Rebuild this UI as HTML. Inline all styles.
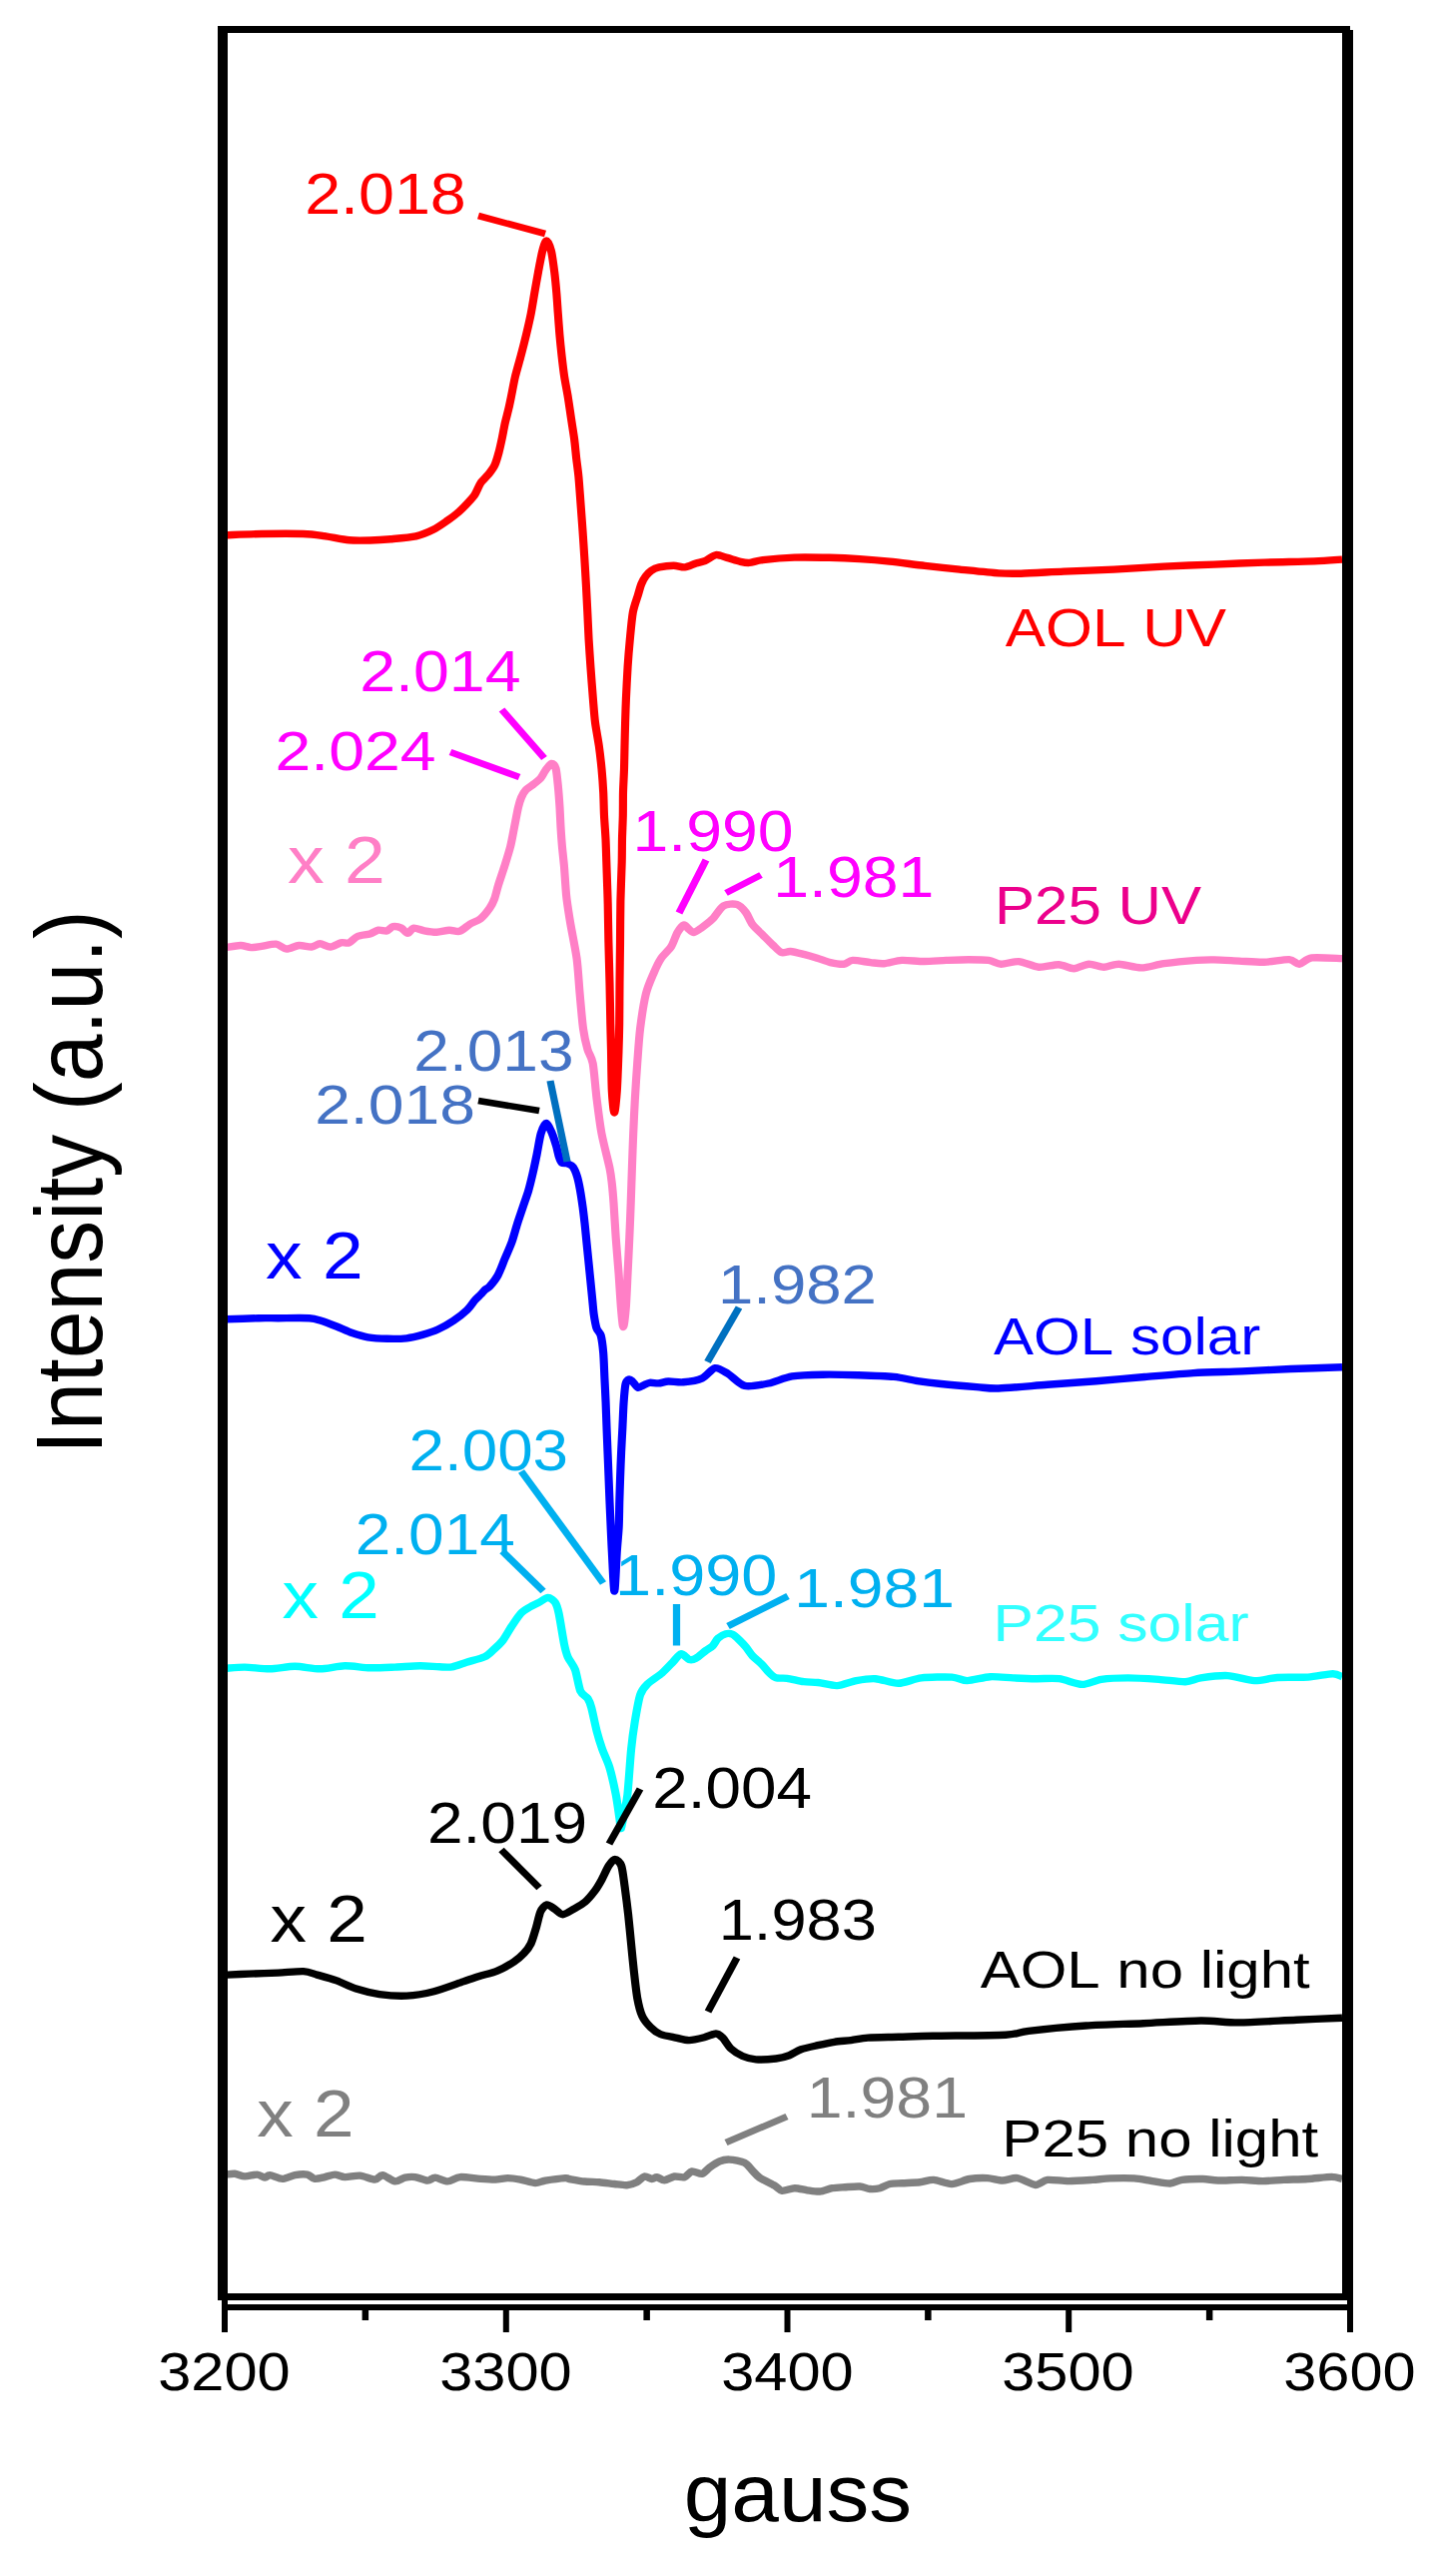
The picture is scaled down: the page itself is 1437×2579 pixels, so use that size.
<!DOCTYPE html><html><head><meta charset="utf-8"><style>html,body{margin:0;padding:0;background:#fff;}svg{display:block;}text{font-family:"Liberation Sans",sans-serif;font-kerning:none;}</style></head><body>
<svg width="1437" height="2579" viewBox="0 0 1437 2579">
<rect width="1437" height="2579" fill="#fff"/>
<text x="305.15" y="214.03" font-size="58.05" fill="#FF0000" textLength="161.66" lengthAdjust="spacingAndGlyphs">2.018</text>
<text x="1006.78" y="646.57" font-size="54.10" fill="#FF0000" textLength="221.28" lengthAdjust="spacingAndGlyphs">AOL UV</text>
<text x="360.26" y="691.74" font-size="56.92" fill="#FF00FF" textLength="161.33" lengthAdjust="spacingAndGlyphs">2.014</text>
<text x="275.57" y="770.55" font-size="56.07" fill="#FF00FF" textLength="160.92" lengthAdjust="spacingAndGlyphs">2.024</text>
<text x="287.98" y="883.80" font-size="66.88" fill="#FF7FC6" textLength="97.92" lengthAdjust="spacingAndGlyphs">x 2</text>
<text x="633.50" y="852.04" font-size="57.63" fill="#FF00FF" textLength="161.01" lengthAdjust="spacingAndGlyphs">1.990</text>
<text x="774.29" y="897.54" font-size="56.92" fill="#FF00FF" textLength="161.15" lengthAdjust="spacingAndGlyphs">1.981</text>
<text x="995.97" y="925.47" font-size="54.24" fill="#EC008C" textLength="207.09" lengthAdjust="spacingAndGlyphs">P25 UV</text>
<text x="414.28" y="1071.74" font-size="56.92" fill="#4472C4" textLength="160.34" lengthAdjust="spacingAndGlyphs">2.013</text>
<text x="315.17" y="1125.45" font-size="56.07" fill="#4472C4" textLength="160.72" lengthAdjust="spacingAndGlyphs">2.018</text>
<text x="266.08" y="1279.90" font-size="67.03" fill="#0000FF" textLength="97.71" lengthAdjust="spacingAndGlyphs">x 2</text>
<text x="718.96" y="1305.05" font-size="56.07" fill="#4472C4" textLength="158.93" lengthAdjust="spacingAndGlyphs">1.982</text>
<text x="994.98" y="1356.39" font-size="51.88" fill="#0000FF" textLength="267.22" lengthAdjust="spacingAndGlyphs">AOL solar</text>
<text x="409.49" y="1471.84" font-size="57.49" fill="#00B0F0" textLength="159.61" lengthAdjust="spacingAndGlyphs">2.003</text>
<text x="355.78" y="1555.54" font-size="57.20" fill="#00B0F0" textLength="159.99" lengthAdjust="spacingAndGlyphs">2.014</text>
<text x="282.58" y="1620.00" font-size="65.74" fill="#00FFFF" textLength="97.18" lengthAdjust="spacingAndGlyphs">x 2</text>
<text x="616.06" y="1596.75" font-size="56.78" fill="#00B0F0" textLength="162.38" lengthAdjust="spacingAndGlyphs">1.990</text>
<text x="795.31" y="1608.95" font-size="56.07" fill="#00B0F0" textLength="160.52" lengthAdjust="spacingAndGlyphs">1.981</text>
<text x="994.53" y="1643.20" font-size="51.34" fill="#33FFFF" textLength="256.18" lengthAdjust="spacingAndGlyphs">P25 solar</text>
<text x="653.29" y="1810.03" font-size="57.91" fill="#000000" textLength="159.58" lengthAdjust="spacingAndGlyphs">2.004</text>
<text x="427.98" y="1845.33" font-size="57.91" fill="#000000" textLength="160.15" lengthAdjust="spacingAndGlyphs">2.019</text>
<text x="270.58" y="1944.00" font-size="66.45" fill="#000000" textLength="97.39" lengthAdjust="spacingAndGlyphs">x 2</text>
<text x="719.68" y="1942.15" font-size="56.64" fill="#000000" textLength="158.19" lengthAdjust="spacingAndGlyphs">1.983</text>
<text x="981.78" y="1989.80" font-size="52.30" fill="#000000" textLength="329.86" lengthAdjust="spacingAndGlyphs">AOL no light</text>
<text x="257.38" y="2138.70" font-size="66.45" fill="#808080" textLength="97.29" lengthAdjust="spacingAndGlyphs">x 2</text>
<text x="807.69" y="2120.03" font-size="57.91" fill="#808080" textLength="161.36" lengthAdjust="spacingAndGlyphs">1.981</text>
<text x="1003.38" y="2159.00" font-size="51.06" fill="#000000" textLength="316.86" lengthAdjust="spacingAndGlyphs">P25 no light</text>
<text x="158.23" y="2392.77" font-size="53.95" fill="#000000" textLength="132.49" lengthAdjust="spacingAndGlyphs">3200</text>
<text x="440.23" y="2392.77" font-size="53.95" fill="#000000" textLength="132.49" lengthAdjust="spacingAndGlyphs">3300</text>
<text x="722.23" y="2392.77" font-size="53.95" fill="#000000" textLength="132.49" lengthAdjust="spacingAndGlyphs">3400</text>
<text x="1003.23" y="2392.77" font-size="53.95" fill="#000000" textLength="132.49" lengthAdjust="spacingAndGlyphs">3500</text>
<text x="1285.23" y="2392.77" font-size="53.95" fill="#000000" textLength="132.49" lengthAdjust="spacingAndGlyphs">3600</text>
<text x="684.70" y="2524.30" font-size="82.33" fill="#000000" textLength="228.49" lengthAdjust="spacingAndGlyphs">gauss</text>
<text transform="translate(102.4 1455.93) rotate(-90)" x="0" y="0" font-size="93.75" fill="#000" textLength="544.66" lengthAdjust="spacingAndGlyphs">Intensity (a.u.)</text>
<g transform="scale(1.100 1)" fill="none" stroke-linejoin="round" stroke-linecap="butt">
<path d="M205.73 2177.10 C206.79 2176.99 211.45 2176.06 213.73 2176.30 C216.01 2176.54 220.09 2178.79 222.82 2178.90 C225.55 2179.01 231.75 2176.94 234.18 2177.10 C236.62 2177.26 239.56 2180.03 241.09 2180.10 C242.62 2180.17 243.52 2177.43 245.64 2177.60 C247.76 2177.77 253.96 2181.40 257.00 2181.40 C260.04 2181.40 265.41 2178.17 268.45 2177.60 C271.50 2177.03 277.39 2176.59 279.82 2177.10 C282.24 2177.61 284.50 2181.07 286.64 2181.40 C288.77 2181.73 293.38 2180.17 295.82 2179.60 C298.25 2179.03 302.48 2177.10 304.91 2177.10 C307.33 2177.10 310.96 2179.47 314.00 2179.60 C317.04 2179.73 324.08 2177.77 327.73 2178.10 C331.38 2178.43 338.62 2182.17 341.36 2182.10 C344.10 2182.03 345.84 2177.36 348.27 2177.60 C350.71 2177.84 356.91 2183.57 359.64 2183.90 C362.36 2184.23 366.29 2180.67 368.73 2180.10 C371.16 2179.53 375.17 2179.20 377.91 2179.60 C380.65 2180.00 386.84 2183.03 389.27 2183.10 C391.71 2183.17 393.75 2179.99 396.18 2180.10 C398.62 2180.21 404.52 2183.97 407.55 2183.90 C410.58 2183.83 414.96 2179.93 418.91 2179.60 C422.86 2179.27 432.92 2181.07 437.18 2181.40 C441.45 2181.73 447.56 2182.21 450.91 2182.10 C454.25 2181.99 459.23 2180.60 462.27 2180.60 C465.32 2180.60 470.38 2181.43 473.73 2182.10 C477.07 2182.77 484.33 2185.47 487.36 2185.60 C490.39 2185.73 492.81 2183.77 496.45 2183.10 C500.10 2182.43 511.83 2180.81 514.73 2180.60 C517.62 2180.39 515.89 2181.05 518.18 2181.50 C520.47 2181.95 528.26 2183.57 531.91 2184.00 C535.56 2184.43 541.90 2184.37 545.55 2184.70 C549.19 2185.03 555.93 2186.10 559.27 2186.50 C562.62 2186.90 567.91 2187.94 570.64 2187.70 C573.36 2187.46 577.59 2185.86 579.73 2184.70 C581.86 2183.54 584.81 2179.43 586.64 2179.00 C588.47 2178.57 591.94 2181.41 593.45 2181.50 C594.97 2181.59 596.48 2179.54 598.00 2179.70 C599.52 2179.86 602.68 2182.79 604.82 2182.70 C606.95 2182.61 611.56 2179.40 614.00 2179.00 C616.44 2178.60 620.97 2180.38 623.09 2179.70 C625.21 2179.02 627.78 2174.34 629.91 2173.90 C632.04 2173.46 636.96 2176.89 639.09 2176.40 C641.22 2175.91 643.79 2171.87 645.91 2170.20 C648.03 2168.53 652.56 2164.98 655.00 2163.90 C657.44 2162.82 661.14 2161.93 664.18 2162.10 C667.22 2162.27 675.09 2163.79 677.82 2165.20 C680.55 2166.61 682.81 2170.70 684.64 2172.70 C686.47 2174.70 688.81 2178.13 691.55 2180.20 C694.28 2182.27 702.45 2186.45 705.18 2188.20 C707.91 2189.95 709.56 2192.97 712.00 2193.30 C714.44 2193.63 720.41 2190.77 723.45 2190.70 C726.50 2190.63 731.78 2192.36 734.82 2192.80 C737.86 2193.24 743.23 2194.28 746.27 2194.00 C749.32 2193.72 754.59 2191.27 757.64 2190.70 C760.68 2190.13 765.75 2189.93 769.09 2189.70 C772.44 2189.47 779.68 2188.76 782.73 2189.00 C785.77 2189.24 789.47 2191.27 791.91 2191.50 C794.35 2191.73 798.58 2191.37 801.00 2190.70 C803.42 2190.03 807.35 2187.17 810.09 2186.50 C812.83 2185.83 817.90 2185.94 821.55 2185.70 C825.19 2185.46 833.66 2185.14 837.45 2184.70 C841.25 2184.26 846.15 2182.15 850.00 2182.40 C853.85 2182.65 862.01 2186.72 866.36 2186.60 C870.72 2186.48 878.28 2182.30 882.64 2181.50 C886.99 2180.70 895.00 2180.40 899.00 2180.60 C903.00 2180.80 909.00 2183.00 912.64 2183.00 C916.27 2183.00 922.27 2180.00 926.27 2180.60 C930.27 2181.20 939.00 2187.26 942.64 2187.50 C946.27 2187.74 949.56 2182.92 953.55 2182.40 C957.53 2181.88 967.10 2183.60 972.55 2183.60 C977.99 2183.60 989.27 2182.76 994.36 2182.40 C999.45 2182.04 1005.64 2181.10 1010.73 2180.90 C1015.82 2180.70 1027.47 2180.54 1032.55 2180.90 C1037.62 2181.26 1044.47 2182.92 1048.82 2183.60 C1053.17 2184.28 1061.55 2186.16 1065.18 2186.00 C1068.82 2185.84 1072.09 2183.00 1076.09 2182.40 C1080.09 2181.80 1090.82 2181.42 1095.18 2181.50 C1099.55 2181.58 1104.10 2182.88 1108.82 2183.00 C1113.53 2183.12 1125.10 2182.32 1130.55 2182.40 C1135.99 2182.48 1144.55 2183.60 1149.64 2183.60 C1154.73 2183.60 1163.27 2182.68 1168.73 2182.40 C1174.18 2182.12 1184.74 2181.90 1190.55 2181.50 C1196.35 2181.10 1208.10 2179.40 1212.27 2179.40 C1216.44 2179.40 1220.55 2181.22 1221.82 2181.50" stroke="#808080" stroke-width="7.40"/>
<path d="M207.09 1977.10 C209.70 1976.97 220.49 1976.37 226.64 1976.10 C232.78 1975.83 246.56 1975.43 253.18 1975.10 C259.80 1974.77 271.53 1973.33 276.27 1973.60 C281.01 1973.87 284.70 1975.86 288.73 1977.10 C292.75 1978.34 301.73 1981.03 306.45 1982.90 C311.18 1984.77 318.98 1989.27 324.18 1991.10 C329.38 1992.93 339.31 1995.67 345.45 1996.60 C351.60 1997.53 363.65 1998.49 370.27 1998.10 C376.89 1997.71 388.23 1995.59 395.09 1993.70 C401.95 1991.81 416.22 1985.93 421.73 1983.90 C427.23 1981.87 432.22 1979.94 436.36 1978.50 C440.51 1977.06 448.60 1975.03 452.82 1973.10 C457.04 1971.17 464.79 1966.32 468.00 1964.00 C471.21 1961.68 474.87 1958.10 476.91 1955.70 C478.95 1953.30 481.76 1949.53 483.27 1946.00 C484.79 1942.47 487.10 1933.48 488.27 1929.20 C489.45 1924.92 490.82 1916.87 492.09 1913.90 C493.36 1910.93 496.12 1907.27 497.82 1906.90 C499.52 1906.53 502.88 1909.79 504.82 1911.10 C506.76 1912.41 510.00 1916.70 512.36 1916.70 C514.73 1916.70 519.84 1912.78 522.55 1911.10 C525.25 1909.42 530.10 1906.51 532.64 1904.10 C535.17 1901.69 539.52 1895.97 541.55 1893.00 C543.57 1890.03 546.13 1885.15 547.82 1881.80 C549.50 1878.45 552.57 1870.61 554.18 1867.90 C555.79 1865.19 558.38 1861.50 559.91 1861.50 C561.44 1861.50 564.46 1864.26 565.64 1867.90 C566.81 1871.54 567.89 1882.29 568.73 1888.80 C569.56 1895.31 571.15 1909.27 571.91 1916.70 C572.67 1924.13 573.78 1937.07 574.45 1944.50 C575.13 1951.93 576.24 1964.96 577.00 1972.40 C577.76 1979.84 579.16 1994.17 580.18 2000.30 C581.20 2006.43 583.04 2014.51 584.64 2018.40 C586.24 2022.29 589.99 2027.09 592.18 2029.50 C594.38 2031.91 598.02 2035.09 601.09 2036.50 C604.16 2037.91 611.68 2039.29 615.18 2040.10 C618.68 2040.91 623.91 2042.64 627.36 2042.60 C630.82 2042.56 637.84 2040.68 641.09 2039.80 C644.34 2038.92 649.50 2035.96 651.73 2036.00 C653.96 2036.04 656.00 2038.10 657.82 2040.10 C659.64 2042.10 662.94 2048.55 665.36 2051.00 C667.79 2053.45 672.96 2057.05 676.00 2058.50 C679.04 2059.95 684.12 2061.57 688.18 2061.90 C692.24 2062.23 702.39 2061.56 706.45 2061.00 C710.52 2060.44 715.59 2058.93 718.64 2057.70 C721.68 2056.47 725.83 2053.13 729.27 2051.80 C732.72 2050.47 740.41 2048.70 744.45 2047.70 C748.50 2046.70 755.59 2044.98 759.64 2044.30 C763.68 2043.62 770.76 2043.16 774.82 2042.60 C778.88 2042.04 784.31 2040.54 790.09 2040.10 C795.87 2039.66 810.29 2039.54 818.18 2039.30 C826.07 2039.06 836.30 2038.58 849.27 2038.30 C862.24 2038.02 903.84 2037.87 915.45 2037.20 C927.07 2036.53 926.61 2034.53 936.36 2033.30 C946.12 2032.07 974.70 2029.01 988.64 2028.00 C1002.58 2026.99 1026.97 2026.37 1040.91 2025.70 C1054.85 2025.03 1081.57 2023.11 1093.18 2023.00 C1104.79 2022.89 1116.39 2025.01 1128.00 2024.90 C1139.61 2024.79 1167.76 2022.81 1180.27 2022.20 C1192.78 2021.59 1216.28 2020.55 1221.82 2020.30" stroke="#000000" stroke-width="7.40"/>
<path d="M205.73 1670.30 C208.01 1670.14 217.50 1669.03 222.82 1669.10 C228.14 1669.17 239.55 1670.91 245.64 1670.80 C251.72 1670.69 262.37 1668.30 268.45 1668.30 C274.54 1668.30 285.20 1670.87 291.27 1670.80 C297.35 1670.73 307.93 1667.93 314.00 1667.80 C320.07 1667.67 330.73 1669.63 336.82 1669.80 C342.90 1669.97 353.55 1669.37 359.64 1669.10 C365.72 1668.83 377.07 1667.84 382.45 1667.80 C387.84 1667.76 396.12 1668.67 400.00 1668.80 C403.88 1668.93 408.25 1669.41 411.55 1668.80 C414.84 1668.19 420.78 1665.53 424.73 1664.20 C428.68 1662.87 437.88 1660.49 441.18 1658.80 C444.48 1657.11 447.26 1653.67 449.45 1651.50 C451.65 1649.33 455.44 1645.63 457.64 1642.50 C459.83 1639.37 463.72 1631.63 465.91 1628.00 C468.10 1624.37 471.90 1617.83 474.09 1615.30 C476.28 1612.77 480.16 1610.45 482.36 1609.00 C484.57 1607.55 488.44 1605.67 490.64 1604.40 C492.83 1603.13 496.84 1599.50 498.82 1599.50 C500.79 1599.50 504.13 1602.29 505.45 1604.40 C506.78 1606.51 507.64 1609.74 508.73 1615.30 C509.82 1620.86 512.55 1640.30 513.64 1646.10 C514.73 1651.90 515.59 1655.41 516.91 1658.80 C518.23 1662.19 522.01 1666.91 523.55 1671.50 C525.08 1676.09 526.92 1689.33 528.45 1693.20 C529.99 1697.07 533.77 1698.33 535.09 1700.50 C536.41 1702.67 537.27 1705.15 538.36 1709.50 C539.45 1713.85 541.95 1727.54 543.27 1733.10 C544.59 1738.66 546.73 1746.37 548.27 1751.20 C549.81 1756.03 553.17 1763.26 554.82 1769.30 C556.47 1775.34 559.42 1789.74 560.64 1796.50 C561.85 1803.26 563.27 1815.47 563.91 1820.00 C564.55 1824.53 564.88 1831.17 565.45 1830.50 C566.02 1829.83 567.41 1819.53 568.18 1815.00 C568.96 1810.47 570.41 1805.01 571.27 1796.50 C572.13 1787.99 573.75 1760.87 574.64 1751.20 C575.52 1741.53 576.82 1731.25 577.91 1724.00 C579.00 1716.75 581.28 1701.87 582.82 1696.80 C584.36 1691.73 586.81 1688.89 589.45 1686.00 C592.10 1683.11 599.57 1678.01 602.64 1675.10 C605.70 1672.19 610.15 1666.77 612.45 1664.20 C614.76 1661.63 617.92 1656.17 619.91 1655.80 C621.90 1655.43 625.56 1660.80 627.36 1661.40 C629.17 1662.00 631.43 1661.49 633.45 1660.30 C635.48 1659.11 640.52 1654.14 642.55 1652.50 C644.57 1650.86 647.15 1649.64 648.64 1648.00 C650.13 1646.36 652.10 1641.84 653.73 1640.20 C655.35 1638.56 659.06 1636.22 660.82 1635.70 C662.58 1635.18 665.28 1635.47 666.91 1636.30 C668.53 1637.13 671.38 1640.19 673.00 1641.90 C674.62 1643.61 677.47 1646.95 679.09 1649.10 C680.72 1651.25 683.29 1655.76 685.18 1658.00 C687.07 1660.24 691.25 1663.66 693.27 1665.90 C695.30 1668.14 698.61 1672.95 700.36 1674.80 C702.12 1676.65 704.30 1679.07 706.45 1679.80 C708.61 1680.53 713.18 1679.78 716.55 1680.30 C719.92 1680.82 727.97 1683.14 731.73 1683.70 C735.48 1684.26 740.68 1683.98 744.73 1684.50 C748.78 1685.02 757.45 1687.85 762.09 1687.60 C766.73 1687.35 774.89 1683.52 779.55 1682.60 C784.20 1681.68 791.88 1680.34 797.00 1680.70 C802.12 1681.06 812.35 1685.41 817.91 1685.30 C823.47 1685.19 832.23 1680.73 838.73 1679.90 C845.22 1679.07 861.06 1678.74 866.64 1679.10 C872.21 1679.46 875.90 1682.65 880.55 1682.60 C885.19 1682.55 895.88 1679.06 901.45 1678.70 C907.03 1678.34 916.79 1679.63 922.36 1679.90 C927.94 1680.17 937.70 1680.59 943.27 1680.70 C948.85 1680.81 958.61 1679.94 964.18 1680.70 C969.76 1681.46 979.98 1686.31 985.09 1686.40 C990.21 1686.49 996.97 1682.27 1002.55 1681.40 C1008.12 1680.53 1019.94 1679.90 1026.91 1679.90 C1033.88 1679.90 1047.85 1680.89 1054.82 1681.40 C1061.79 1681.91 1074.07 1683.90 1079.18 1683.70 C1084.30 1683.50 1088.07 1680.71 1093.18 1679.90 C1098.30 1679.09 1111.05 1677.24 1117.55 1677.60 C1124.04 1677.96 1135.87 1682.35 1141.91 1682.60 C1147.95 1682.85 1156.31 1679.97 1162.82 1679.50 C1169.33 1679.03 1183.99 1679.61 1190.73 1679.10 C1197.47 1678.59 1209.22 1675.75 1213.36 1675.70 C1217.51 1675.65 1220.69 1678.30 1221.82 1678.70" stroke="#00FFFF" stroke-width="7.40"/>
<path d="M205.73 1320.80 C209.69 1320.65 229.13 1319.85 235.45 1319.70 C241.78 1319.55 247.02 1319.70 253.18 1319.70 C259.34 1319.70 276.42 1319.37 281.64 1319.70 C286.85 1320.03 288.96 1321.09 292.27 1322.20 C295.58 1323.31 302.67 1326.36 306.45 1328.00 C310.24 1329.64 316.85 1333.06 320.64 1334.50 C324.42 1335.94 330.56 1338.03 334.82 1338.80 C339.07 1339.57 347.82 1340.17 352.55 1340.30 C357.27 1340.43 366.02 1340.32 370.27 1339.80 C374.53 1339.28 380.67 1337.57 384.45 1336.40 C388.24 1335.23 394.85 1332.89 398.64 1331.00 C402.42 1329.11 409.27 1324.80 412.82 1322.20 C416.37 1319.60 422.67 1314.23 425.27 1311.50 C427.88 1308.77 430.70 1303.78 432.36 1301.70 C434.02 1299.62 436.47 1297.33 437.73 1295.90 C438.99 1294.47 440.76 1292.03 441.82 1291.00 C442.87 1289.97 444.12 1290.07 445.64 1288.20 C447.15 1286.33 451.33 1280.72 453.18 1277.00 C455.04 1273.28 457.85 1264.75 459.55 1260.30 C461.24 1255.85 464.39 1248.25 465.91 1243.60 C467.42 1238.95 469.56 1230.05 470.91 1225.40 C472.25 1220.75 474.64 1213.15 476.00 1208.70 C477.36 1204.25 479.90 1196.45 481.09 1192.00 C482.28 1187.55 483.89 1180.14 484.91 1175.30 C485.93 1170.46 487.72 1161.10 488.73 1155.70 C489.73 1150.30 491.32 1138.96 492.45 1134.80 C493.59 1130.64 495.92 1124.50 497.27 1124.50 C498.63 1124.50 501.41 1131.75 502.64 1134.80 C503.86 1137.85 505.61 1144.24 506.45 1147.40 C507.30 1150.56 508.33 1156.27 509.00 1158.50 C509.67 1160.73 510.45 1163.26 511.45 1164.10 C512.46 1164.94 515.19 1164.24 516.55 1164.80 C517.90 1165.36 520.45 1166.54 521.64 1168.30 C522.82 1170.06 524.61 1175.03 525.45 1178.00 C526.30 1180.97 527.32 1186.51 528.00 1190.60 C528.68 1194.69 529.96 1204.06 530.55 1208.70 C531.13 1213.34 531.95 1221.31 532.36 1225.40 C532.78 1229.49 533.30 1235.68 533.64 1239.40 C533.98 1243.12 534.57 1249.59 534.91 1253.30 C535.25 1257.01 535.84 1263.48 536.18 1267.20 C536.52 1270.92 537.03 1276.55 537.45 1281.20 C537.88 1285.85 538.94 1297.46 539.36 1302.10 C539.79 1306.74 540.13 1312.28 540.64 1316.00 C541.15 1319.72 542.33 1327.20 543.18 1330.00 C544.03 1332.80 546.19 1333.73 547.00 1337.00 C547.81 1340.27 548.82 1348.86 549.27 1354.50 C549.72 1360.14 550.07 1372.69 550.36 1379.30 C550.65 1385.91 551.20 1397.47 551.45 1404.10 C551.71 1410.73 552.04 1422.37 552.27 1429.00 C552.50 1435.63 552.94 1447.19 553.18 1453.80 C553.42 1460.41 553.85 1471.97 554.09 1478.60 C554.33 1485.23 554.75 1496.87 555.00 1503.50 C555.25 1510.13 555.72 1521.69 556.00 1528.30 C556.28 1534.91 556.64 1544.47 557.09 1553.10 C557.54 1561.73 558.76 1593.00 559.36 1593.00 C559.97 1593.00 561.10 1561.73 561.64 1553.10 C562.17 1544.47 563.06 1534.91 563.36 1528.30 C563.67 1521.69 563.74 1510.13 563.91 1503.50 C564.08 1496.87 564.42 1485.23 564.64 1478.60 C564.85 1471.97 565.27 1460.41 565.55 1453.80 C565.82 1447.19 566.42 1435.63 566.73 1429.00 C567.03 1422.37 567.44 1409.90 567.82 1404.10 C568.19 1398.30 568.89 1388.58 569.55 1385.50 C570.20 1382.42 571.90 1381.33 572.73 1381.00 C573.55 1380.67 574.65 1381.91 575.73 1383.00 C576.81 1384.09 579.46 1388.69 580.82 1389.20 C582.18 1389.71 584.48 1387.45 585.91 1386.80 C587.34 1386.15 589.74 1384.55 591.55 1384.30 C593.35 1384.05 597.20 1385.07 599.45 1384.90 C601.71 1384.73 605.45 1383.15 608.45 1383.00 C611.46 1382.85 617.89 1384.23 622.00 1383.80 C626.11 1383.37 635.39 1381.69 639.27 1379.80 C643.15 1377.91 647.94 1370.17 651.09 1369.60 C654.24 1369.03 659.32 1373.13 662.91 1375.50 C666.50 1377.87 673.12 1386.13 678.00 1387.40 C682.88 1388.67 693.80 1386.27 699.55 1385.00 C705.29 1383.73 714.48 1379.07 721.09 1377.90 C727.70 1376.73 741.05 1376.36 749.09 1376.20 C757.13 1376.04 772.75 1376.41 781.36 1376.70 C789.98 1376.99 806.54 1377.61 813.73 1378.40 C820.92 1379.19 829.54 1381.65 835.27 1382.60 C841.01 1383.55 849.55 1384.70 856.73 1385.50 C863.90 1386.30 882.11 1388.00 889.09 1388.60 C896.07 1389.20 900.51 1390.31 909.09 1390.00 C917.67 1389.69 941.62 1387.27 953.45 1386.30 C965.28 1385.33 986.00 1383.74 997.82 1382.70 C1009.64 1381.66 1030.27 1379.58 1042.09 1378.50 C1053.91 1377.42 1074.62 1375.35 1086.45 1374.60 C1098.28 1373.85 1118.99 1373.45 1130.82 1372.90 C1142.65 1372.35 1163.05 1371.05 1175.18 1370.50 C1187.32 1369.95 1215.60 1369.03 1221.82 1368.80" stroke="#0000FF" stroke-width="7.40"/>
<path d="M205.73 948.60 C207.50 948.32 215.96 946.50 219.00 946.50 C222.04 946.50 226.01 948.49 228.55 948.60 C231.08 948.71 234.96 947.75 238.00 947.30 C241.04 946.85 248.32 944.84 251.36 945.20 C254.41 945.56 258.04 949.83 260.82 950.00 C263.59 950.17 269.14 946.77 272.18 946.50 C275.22 946.23 281.09 948.23 283.64 948.00 C286.18 947.77 288.99 944.80 291.27 944.80 C293.55 944.80 298.19 948.13 300.73 948.00 C303.26 947.87 307.99 944.36 310.27 943.80 C312.55 943.24 315.79 944.64 317.82 943.80 C319.84 942.96 322.92 938.67 325.45 937.50 C327.99 936.33 334.28 935.84 336.82 935.00 C339.35 934.16 342.42 931.61 344.45 931.20 C346.49 930.79 350.32 932.37 352.09 931.90 C353.86 931.43 355.96 928.07 357.73 927.70 C359.50 927.33 363.58 928.21 365.36 929.10 C367.15 929.99 369.58 934.40 371.09 934.40 C372.61 934.40 374.70 929.43 376.73 929.10 C378.75 928.77 383.48 931.34 386.27 931.90 C389.06 932.46 394.59 933.39 397.64 933.30 C400.68 933.21 406.30 931.33 409.09 931.20 C411.88 931.07 416.01 933.13 418.55 932.30 C421.08 931.47 425.56 926.68 428.09 925.00 C430.62 923.32 435.17 921.83 437.55 919.70 C439.92 917.57 444.24 911.63 445.91 909.00 C447.58 906.37 449.06 903.03 450.09 900.00 C451.12 896.97 452.39 890.73 453.64 886.30 C454.88 881.87 457.98 872.00 459.45 866.80 C460.93 861.60 463.55 852.50 464.73 847.30 C465.90 842.10 467.33 833.00 468.27 827.80 C469.22 822.60 470.98 812.21 471.82 808.30 C472.65 804.39 473.60 800.85 474.55 798.50 C475.49 796.15 477.38 792.51 478.91 790.70 C480.44 788.89 484.22 786.46 486.00 784.90 C487.78 783.34 490.85 780.83 492.27 779.00 C493.69 777.17 495.34 773.15 496.64 771.20 C497.93 769.25 500.75 764.65 502.00 764.40 C503.25 764.15 505.18 766.05 506.00 769.30 C506.82 772.55 507.71 783.60 508.18 788.80 C508.65 794.00 509.24 803.10 509.55 808.30 C509.85 813.50 510.16 822.60 510.45 827.80 C510.75 833.00 511.32 842.10 511.73 847.30 C512.14 852.50 513.13 861.60 513.55 866.80 C513.96 872.00 514.50 881.87 514.82 886.30 C515.13 890.73 515.30 894.85 515.91 900.00 C516.52 905.15 518.14 916.93 519.36 924.90 C520.59 932.87 523.96 950.48 525.09 959.80 C526.22 969.12 527.04 985.48 527.82 994.80 C528.59 1004.12 529.96 1022.26 530.91 1029.70 C531.85 1037.14 533.73 1045.95 534.91 1050.60 C536.08 1055.25 538.62 1058.08 539.73 1064.60 C540.83 1071.12 542.13 1090.18 543.18 1099.50 C544.24 1108.82 546.06 1125.18 547.64 1134.50 C549.21 1143.82 553.74 1162.67 555.00 1169.40 C556.26 1176.13 556.61 1180.35 557.09 1185.00 C557.58 1189.65 558.16 1197.07 558.64 1204.30 C559.11 1211.53 560.03 1229.89 560.64 1239.20 C561.24 1248.51 562.55 1264.78 563.18 1274.10 C563.81 1283.42 564.79 1301.85 565.36 1309.10 C565.93 1316.35 566.86 1328.50 567.45 1328.50 C568.05 1328.50 569.28 1316.35 569.82 1309.10 C570.35 1301.85 571.03 1283.42 571.45 1274.10 C571.88 1264.78 572.62 1248.51 573.00 1239.20 C573.38 1229.89 573.96 1213.61 574.27 1204.30 C574.59 1194.99 575.06 1178.71 575.36 1169.40 C575.67 1160.09 576.18 1143.82 576.55 1134.50 C576.91 1125.18 577.61 1108.82 578.09 1099.50 C578.58 1090.18 579.55 1073.91 580.18 1064.60 C580.81 1055.29 581.76 1039.01 582.82 1029.70 C583.87 1020.39 586.43 1002.25 588.09 994.80 C589.75 987.35 593.47 978.47 595.27 973.80 C597.08 969.13 599.53 963.29 601.64 959.80 C603.75 956.31 609.09 951.08 611.09 947.60 C613.09 944.12 615.11 936.58 616.64 933.70 C618.16 930.82 621.16 926.47 622.55 926.00 C623.93 925.53 625.80 929.19 627.00 930.20 C628.20 931.21 630.02 933.75 631.55 933.60 C633.07 933.45 636.18 930.90 638.45 929.10 C640.73 927.30 645.93 923.07 648.64 920.10 C651.34 917.13 655.76 908.73 658.73 906.80 C661.70 904.87 668.21 904.71 670.91 905.60 C673.61 906.49 677.11 910.82 679.00 913.50 C680.89 916.18 682.93 922.58 685.09 925.70 C687.25 928.82 692.75 934.22 695.18 936.90 C697.62 939.58 701.19 943.57 703.36 945.80 C705.53 948.03 709.30 952.71 711.45 953.60 C713.61 954.49 716.84 952.26 719.55 952.50 C722.25 952.74 728.48 954.51 731.73 955.40 C734.98 956.29 740.67 958.11 743.91 959.20 C747.15 960.29 752.76 962.80 756.00 963.60 C759.24 964.40 765.48 965.49 768.18 965.20 C770.88 964.91 773.02 961.61 776.27 961.40 C779.52 961.19 788.75 963.16 792.55 963.60 C796.34 964.04 800.95 964.99 804.73 964.70 C808.51 964.41 816.05 961.69 820.91 961.40 C825.77 961.11 835.78 962.50 841.18 962.50 C846.59 962.50 856.05 961.64 861.45 961.40 C866.86 961.16 876.59 960.70 881.73 960.70 C886.87 960.70 896.05 960.80 900.00 961.40 C903.95 962.00 907.72 965.04 911.36 965.20 C915.01 965.36 922.79 962.20 927.36 962.60 C931.93 963.00 940.78 967.79 945.64 968.20 C950.50 968.61 959.56 965.50 963.82 965.70 C968.07 965.90 973.88 969.77 977.55 969.70 C981.21 969.63 987.62 965.40 991.27 965.20 C994.92 965.00 1001.26 968.20 1004.91 968.20 C1008.56 968.20 1014.08 965.11 1018.64 965.20 C1023.19 965.29 1033.62 968.97 1039.09 968.90 C1044.56 968.83 1052.95 965.70 1059.64 964.70 C1066.33 963.70 1083.19 961.91 1089.27 961.40 C1095.36 960.89 1100.10 960.81 1105.27 960.90 C1110.45 960.99 1122.01 961.79 1128.09 962.10 C1134.18 962.41 1144.84 963.40 1150.91 963.20 C1156.98 963.00 1169.38 960.33 1173.64 960.60 C1177.89 960.87 1180.08 965.43 1182.82 965.20 C1185.56 964.97 1188.98 959.65 1194.18 958.90 C1199.38 958.15 1218.13 959.51 1221.82 959.60" stroke="#FF7FC6" stroke-width="7.40"/>
<path d="M205.73 535.80 C210.03 535.63 228.63 534.67 238.00 534.50 C247.37 534.33 268.40 534.22 276.00 534.50 C283.60 534.78 289.42 535.76 295.00 536.60 C300.58 537.44 312.24 540.21 317.82 540.80 C323.39 541.39 331.75 541.15 336.82 541.00 C341.88 540.85 350.24 540.26 355.82 539.70 C361.39 539.14 373.48 538.05 378.64 536.80 C383.79 535.55 390.65 532.37 394.45 530.30 C398.26 528.23 404.14 523.62 407.18 521.30 C410.22 518.98 414.74 515.33 417.27 512.90 C419.81 510.47 424.16 505.51 426.18 503.10 C428.21 500.69 430.94 497.40 432.45 494.80 C433.97 492.20 435.87 486.31 437.55 483.60 C439.22 480.89 443.28 476.91 445.00 474.50 C446.72 472.09 449.24 468.37 450.45 465.50 C451.67 462.63 453.18 456.72 454.09 453.00 C455.00 449.28 456.52 441.51 457.27 437.60 C458.02 433.69 458.98 427.41 459.73 423.70 C460.48 419.99 462.17 413.27 462.91 409.80 C463.65 406.33 464.45 402.10 465.27 397.70 C466.10 393.30 467.89 382.37 469.09 376.80 C470.29 371.23 472.94 361.47 474.27 355.90 C475.61 350.33 477.88 340.57 479.09 335.00 C480.30 329.43 482.36 319.67 483.36 314.10 C484.37 308.53 485.75 298.77 486.64 293.20 C487.52 287.63 489.04 277.87 490.00 272.30 C490.96 266.73 492.82 255.57 493.82 251.40 C494.81 247.23 496.39 241.00 497.45 241.00 C498.52 241.00 500.85 247.23 501.82 251.40 C502.79 255.57 504.08 266.73 504.73 272.30 C505.37 277.87 506.20 287.63 506.64 293.20 C507.07 298.77 507.62 308.53 508.00 314.10 C508.38 319.67 509.01 329.43 509.45 335.00 C509.90 340.57 510.79 350.33 511.36 355.90 C511.93 361.47 512.96 371.23 513.73 376.80 C514.49 382.37 516.27 392.13 517.09 397.70 C517.92 403.27 519.15 413.03 519.91 418.60 C520.67 424.17 522.19 434.21 522.82 439.50 C523.45 444.79 524.12 453.27 524.64 458.30 C525.16 463.33 526.19 471.05 526.73 477.20 C527.26 483.35 528.14 497.15 528.64 504.40 C529.13 511.65 529.99 524.36 530.45 531.60 C530.92 538.84 531.68 551.46 532.09 558.70 C532.50 565.94 533.18 578.65 533.55 585.90 C533.91 593.15 534.49 605.85 534.82 613.10 C535.15 620.35 535.62 633.05 536.00 640.30 C536.38 647.55 537.12 659.54 537.64 667.50 C538.16 675.46 539.35 692.56 539.91 700.00 C540.47 707.44 541.10 717.09 541.82 723.30 C542.53 729.51 544.48 740.39 545.27 746.60 C546.06 752.81 547.19 763.69 547.73 769.90 C548.26 776.11 548.97 786.99 549.27 793.20 C549.58 799.41 549.72 810.29 550.00 816.50 C550.28 822.71 551.08 833.60 551.36 839.80 C551.64 846.00 551.90 856.80 552.09 863.00 C552.28 869.20 552.65 880.70 552.82 886.30 C552.99 891.90 553.21 897.43 553.36 905.00 C553.52 912.57 553.78 932.58 554.00 943.10 C554.22 953.62 554.77 973.02 555.00 983.90 C555.23 994.78 555.55 1015.62 555.73 1024.70 C555.91 1033.78 556.18 1043.03 556.36 1052.00 C556.55 1060.97 556.70 1083.73 557.09 1092.00 C557.48 1100.27 558.67 1114.00 559.27 1114.00 C559.88 1114.00 561.12 1100.27 561.64 1092.00 C562.16 1083.73 562.89 1060.97 563.18 1052.00 C563.47 1043.03 563.70 1033.78 563.82 1024.70 C563.94 1015.62 563.99 994.78 564.09 983.90 C564.19 973.02 564.44 953.98 564.55 943.10 C564.65 932.22 564.70 912.98 564.91 902.30 C565.12 891.62 565.90 871.33 566.09 863.00 C566.28 854.67 566.23 846.00 566.36 839.80 C566.50 833.60 566.97 822.71 567.09 816.50 C567.21 810.29 567.13 799.41 567.27 793.20 C567.42 786.99 568.00 776.11 568.18 769.90 C568.36 763.69 568.50 752.81 568.64 746.60 C568.77 740.39 569.01 729.51 569.18 723.30 C569.35 717.09 569.61 707.44 569.91 700.00 C570.21 692.56 570.98 675.46 571.45 667.50 C571.93 659.54 572.82 647.55 573.45 640.30 C574.08 633.05 575.20 619.05 576.18 613.10 C577.16 607.15 579.79 599.50 580.82 595.70 C581.85 591.90 582.96 587.12 583.91 584.60 C584.85 582.08 586.70 578.59 587.91 576.80 C589.12 575.01 591.38 572.39 593.00 571.20 C594.62 570.01 597.39 568.57 600.09 567.90 C602.79 567.23 610.17 566.20 613.27 566.20 C616.38 566.20 620.66 568.19 623.36 567.90 C626.07 567.61 631.11 564.83 633.55 564.00 C635.98 563.17 639.20 562.82 641.64 561.70 C644.07 560.58 649.12 556.04 651.82 555.60 C654.52 555.16 658.94 557.51 661.91 558.40 C664.88 559.29 671.39 561.63 674.09 562.30 C676.79 562.97 679.48 563.63 682.18 563.40 C684.88 563.17 688.90 561.31 694.36 560.60 C699.83 559.89 715.07 558.41 723.18 558.10 C731.29 557.79 747.27 558.10 755.18 558.30 C763.10 558.50 775.25 559.09 782.55 559.60 C789.84 560.11 802.01 561.19 809.91 562.10 C817.81 563.01 833.31 565.33 841.82 566.40 C850.33 567.47 864.76 569.10 873.73 570.10 C882.70 571.10 901.64 573.35 909.09 573.90 C916.55 574.45 921.72 574.44 929.64 574.20 C937.55 573.96 957.21 572.65 968.45 572.10 C979.70 571.55 1001.84 570.77 1014.00 570.10 C1026.16 569.43 1047.47 567.77 1059.64 567.10 C1071.81 566.43 1093.10 565.63 1105.27 565.10 C1117.44 564.57 1138.75 563.53 1150.91 563.10 C1163.07 562.67 1187.00 562.30 1196.45 561.90 C1205.91 561.50 1218.44 560.34 1221.82 560.10" stroke="#FF0000" stroke-width="7.40"/>
</g>
<g transform="scale(1.100 1)">
<line x1="435.45" y1="216.0" x2="496.36" y2="234.0" stroke="#FF0000" stroke-width="6.60"/>
<line x1="456.82" y1="710.5" x2="495.45" y2="759.0" stroke="#FF00FF" stroke-width="6.60"/>
<line x1="410.00" y1="753.0" x2="472.73" y2="778.0" stroke="#FF00FF" stroke-width="6.60"/>
<line x1="642.73" y1="861.0" x2="618.18" y2="914.0" stroke="#FF00FF" stroke-width="6.60"/>
<line x1="692.73" y1="876.0" x2="660.91" y2="894.0" stroke="#FF00FF" stroke-width="6.60"/>
<line x1="500.91" y1="1082.0" x2="516.36" y2="1163.0" stroke="#0070C0" stroke-width="6.60"/>
<line x1="435.45" y1="1102.0" x2="490.91" y2="1112.0" stroke="#000000" stroke-width="6.60"/>
<line x1="672.73" y1="1309.0" x2="644.09" y2="1363.5" stroke="#0070C0" stroke-width="6.60"/>
<line x1="474.55" y1="1473.0" x2="549.09" y2="1585.0" stroke="#00B0F0" stroke-width="6.60"/>
<line x1="457.27" y1="1553.0" x2="494.55" y2="1593.0" stroke="#00B0F0" stroke-width="6.60"/>
<line x1="615.91" y1="1606.0" x2="615.91" y2="1647.5" stroke="#00B0F0" stroke-width="6.60"/>
<line x1="717.27" y1="1598.0" x2="662.73" y2="1628.0" stroke="#00B0F0" stroke-width="6.60"/>
<line x1="582.73" y1="1791.0" x2="554.55" y2="1846.0" stroke="#000000" stroke-width="6.60"/>
<line x1="456.36" y1="1852.0" x2="490.91" y2="1890.0" stroke="#000000" stroke-width="6.60"/>
<line x1="670.91" y1="1960.0" x2="644.55" y2="2014.0" stroke="#000000" stroke-width="6.60"/>
<line x1="660.91" y1="2145.0" x2="716.36" y2="2119.0" stroke="#808080" stroke-width="6.60"/>
</g>
<g fill="#000">
<rect x="218" y="26" width="1134" height="7"/>
<rect x="218" y="26" width="10" height="2277"/>
<rect x="1344" y="30" width="11" height="2273"/>
<rect x="218" y="2296" width="1137" height="7"/>
<rect x="222" y="2307" width="1127" height="6"/>
<rect x="222.0" y="2303" width="6" height="32"/>
<rect x="362.6" y="2313" width="6.5" height="10"/>
<rect x="503.8" y="2310" width="6" height="25"/>
<rect x="644.4" y="2313" width="6.5" height="10"/>
<rect x="785.5" y="2310" width="6" height="25"/>
<rect x="926.1" y="2313" width="6.5" height="10"/>
<rect x="1067.2" y="2310" width="6" height="25"/>
<rect x="1207.9" y="2313" width="6.5" height="10"/>
<rect x="1349.0" y="2303" width="6" height="32"/>
</g>
</svg></body></html>
